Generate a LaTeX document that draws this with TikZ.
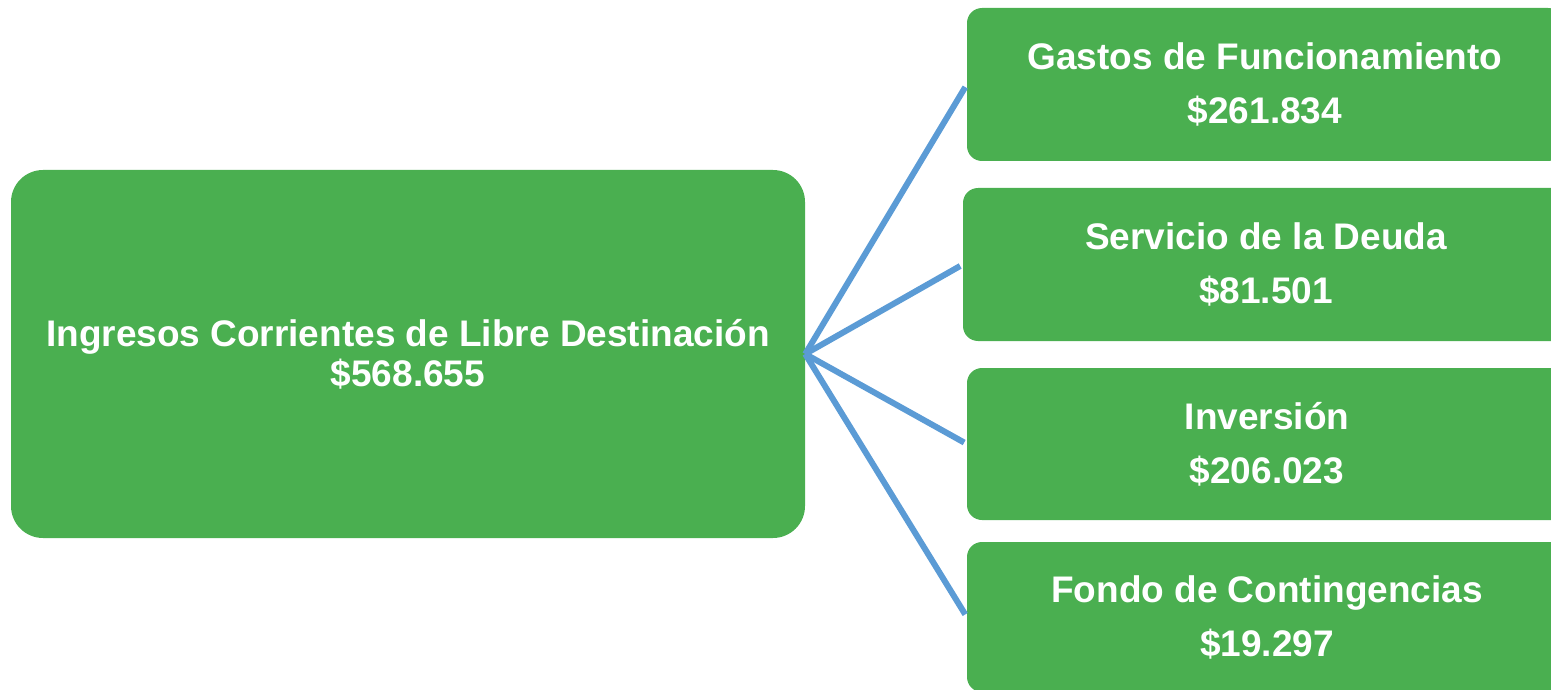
\documentclass[tikz,border=0pt]{standalone}
\usepackage{fontspec}
\setmainfont{Liberation Sans}
\definecolor{boxgreen}{RGB}{74,175,80}
\definecolor{linkblue}{RGB}{91,155,213}
\tikzset{
  mainbox/.style={fill=boxgreen, draw=none, rounded corners=32pt, minimum width=794pt, minimum height=368pt,
    text=white, align=center, inner sep=0pt, font=\fontsize{37}{40}\selectfont\bfseries},
  subbox/.style={fill=boxgreen, draw=none, rounded corners=15pt, minimum height=153pt,
    text=white, align=center, inner sep=0pt, font=\fontsize{37}{54}\selectfont\bfseries},
  link/.style={draw=linkblue, line width=6pt, shorten >=3pt}
}
\begin{document}
\begin{tikzpicture}[x=1pt,y=-1pt]
\useasboundingbox (0,0) rectangle (1551,690);
\node[mainbox] (ing) at (408,354) {\raisebox{-2pt}{Ingresos Corrientes de Libre Destinación}\\\raisebox{-2pt}{\$568.655}};
\node[subbox, minimum width=596pt] (gas) at (1265,84.5) {Gastos de Funcionamiento\\\$261.834};
\node[subbox, minimum width=606pt] (ser) at (1266,264.5) {Servicio de la Deuda\\\$81.501};
\node[subbox, minimum width=600pt, minimum height=152pt] (inv) at (1267,444) {Inversión\\\$206.023};
\node[subbox, minimum width=600pt, minimum height=150pt] (fon) at (1267,617) {Fondo de Contingencias\\\$19.297};
\draw[link] (ing.east) -- (gas.west);
\draw[link] (ing.east) -- (ser.west);
\draw[link] (ing.east) -- (inv.west);
\draw[link] (ing.east) -- (fon.west);
\end{tikzpicture}
\end{document}
